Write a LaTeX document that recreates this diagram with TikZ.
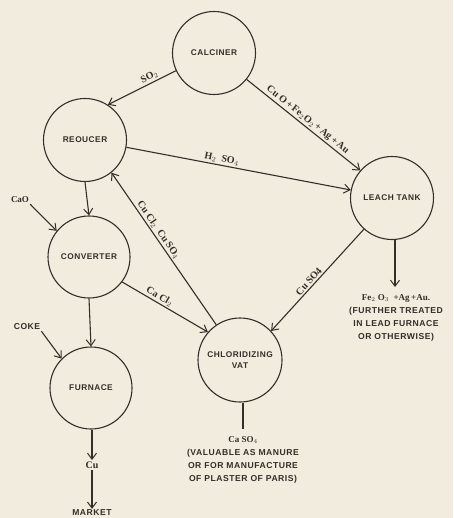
\documentclass[tikz,border=0pt]{standalone}
\usepackage{fontspec}
\setmainfont{Liberation Serif}
\setsansfont{Liberation Sans}
\newfontfamily\capfont{Liberation Sans}[LetterSpace=6]
\usetikzlibrary{arrows.meta}
\definecolor{paper}{RGB}{241,236,221}
\definecolor{ink}{RGB}{52,46,42}
\tikzset{
  unit/.style={circle,draw=ink,line width=1.1pt,minimum size=83pt,inner sep=0pt,
    font=\capfont\bfseries\fontsize{8.3}{11}\selectfont,text=ink,align=center},
  flow/.style={draw=ink,line width=1.1pt,-{Straight Barb[length=6pt,width=9pt,line width=1pt]}},
  plain/.style={draw=ink,line width=1.3pt},
  captxt/.style={font=\capfont\bfseries\fontsize{8.6}{13}\selectfont,text=ink,align=center,inner sep=1pt},
  frm/.style={font=\bfseries\fontsize{10}{11}\selectfont,text=ink,inner sep=1.5pt},
}
\begin{document}
\begin{tikzpicture}[x=1pt,y=-1pt]
\fill[paper] (0,0) rectangle (453,518);
\useasboundingbox (0,0) rectangle (453,518);
\node[unit] (cal) at (214,53) {CALCINER};
\node[unit] (red) at (85,140) {REOUCER};
\node[unit] (lt) at (392,198) {LEACH TANK};
\node[unit,minimum size=82pt] (conv) at (89,257) {CONVERTER};
\node[unit,minimum size=82pt] (fur) at (91,388) {FURNACE};
\node[unit,minimum size=84pt] (vat) at (240,360) {CHLORIDIZING\\VAT};

\node[captxt] (cao) at (20,200) {{\rmfamily\fontsize{9}{9}\selectfont CaO}};
\node[captxt] (coke) at (27,327) {COKE};
\node[frm] (cu) at (92,465) {Cu};
\node[captxt] (mkt) at (92,513) {MARKET};
\node[captxt] (res) at (396,318) {{\rmfamily\fontsize{9}{9}\selectfont Fe$_2$ O$_3$ \ +Ag\,+Au.}\\(FURTHER TREATED\\IN LEAD FURNACE\\OR OTHERWISE)};
\node[captxt] (caso) at (243,460) {{\rmfamily\fontsize{9}{9}\selectfont Ca SO$_4$}\\(VALUABLE AS MANURE\\OR FOR MANUFACTURE\\OF PLASTER OF PARIS)};
\coordinate (restop) at (395,287);
\coordinate (casotop) at (243,429);

\draw[flow] (cal.205) -- node[frm,above,sloped,pos=0.35] {SO$_2$} (red.57);
\draw[flow] (cal.321) -- node[frm,midway,above,sloped] {Cu O\,+\,Fe$_2$O$_2$\,+\,Ag\,+\,Au} (lt.139);
\draw[flow] (red.350) -- node[frm,above,sloped,pos=0.42] {H$_2$ \ SO$_4$} (lt.169);
\draw[flow] (red.south) -- (conv.north);
\draw[flow] (vat.124) -- node[frm,above,sloped,pos=0.6] {Cu Cl$_2$ \ Cu SO$_4$} (red.309);
\draw[flow] (conv.323) -- node[frm,above,sloped,pos=0.4] {Ca Cl$_2$} (vat.139);
\draw[flow] (lt.228) -- node[frm,above,sloped,pos=0.55] {Cu SO4} (vat.43);
\draw[flow] (lt.south -| restop) -- (restop);
\draw[flow] (cao.south east) -- (conv.141);
\draw[flow] (conv.south) -- (fur.north);
\draw[flow] (coke.south east) -- (fur.135);
\draw[flow] (fur.south -| cu) -- (cu.north);
\draw[flow] (cu.south) -- (mkt.north);
\draw[plain] (vat.south -| casotop) -- (casotop);
\end{tikzpicture}
\end{document}
